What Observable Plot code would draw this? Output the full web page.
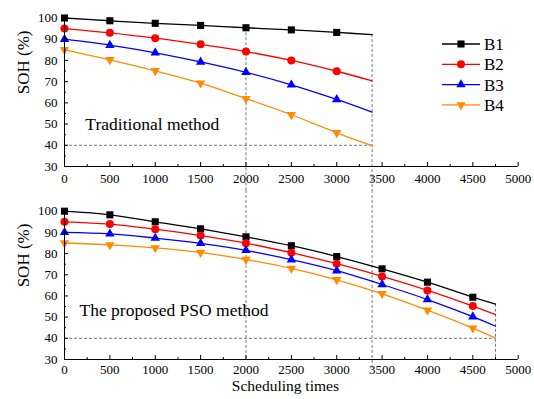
<!DOCTYPE html>
<html><head><meta charset="utf-8">
<script src="https://cdn.jsdelivr.net/npm/d3@7"></script>
<script src="https://cdn.jsdelivr.net/npm/@observablehq/plot@0.6"></script>
<style>
body{margin:0;background:#fff;}
#wrap{position:relative;width:534px;height:399px;font-family:"Liberation Serif","Times New Roman",serif;}
#wrap svg{display:block;}
#legend{position:absolute;left:0;top:0;pointer-events:none;}
</style></head><body><div id="wrap"></div>
<script>
// ---- data ----
const series = ["B1", "B2", "B3", "B4"];
const colors = ["#000000", "#ff0000", "#0000ff", "#ff8c00"];
const xTicks = [0, 500, 1000, 1500, 2000, 2500, 3000, 3500, 4000, 4500, 5000];
const xMinor = [250, 750, 1250, 1750, 2250, 2750, 3250, 3750, 4250, 4750];
const yTicks = [30, 40, 50, 60, 70, 80, 90, 100];
const yMinor = [35, 45, 55, 65, 75, 85, 95];

// Traditional method
const tradX = [0, 500, 1000, 1500, 2000, 2500, 3000, 3390];
const tradB1 = [100, 98.7, 97.5, 96.5, 95.4, 94.4, 93.2, 92.2];
const tradB2 = [95.0, 93.0, 90.5, 87.6, 84.2, 80.0, 74.9, 70.4];
const tradB3 = [90.0, 87.2, 83.6, 79.3, 74.4, 68.5, 61.6, 55.6];
const tradB4 = [85.0, 80.3, 75.1, 69.3, 62.0, 54.4, 45.9, 39.8];

// Proposed PSO method
const psoX = [0, 500, 1000, 1500, 2000, 2500, 3000, 3500, 4000, 4500, 4750];
const psoB1 = [100, 98.3, 95.0, 91.7, 87.9, 83.7, 78.6, 72.8, 66.5, 59.4, 56.1];
const psoB2 = [95.0, 93.9, 91.5, 88.5, 84.9, 80.4, 75.2, 69.2, 62.6, 55.2, 51.2];
const psoB3 = [90.0, 89.3, 87.3, 84.8, 81.5, 77.1, 71.9, 65.4, 58.3, 50.2, 45.7];
const psoB4 = [85.0, 84.1, 82.7, 80.5, 77.2, 73.0, 67.6, 61.0, 53.3, 44.8, 40.1];

// dashed reference lines
const tradRefH = [{y: 40, x1: 0, x2: 3390}];
const tradRefV = [{x: 2000, y1: 95.4, y2: 18.7}, {x: 3390, y1: 92.2, y2: 18.7}];
const psoRefH = [{y: 40, x1: 0, x2: 4750}];
const psoRefV = [{x: 2000, y1: 109.8, y2: 30}, {x: 3390, y1: 109.8, y2: 25.8}, {x: 4750, y1: 56.1, y2: 30}];

const yLabel = "SOH (%)";
const xLabel = "Scheduling times";
const tradTitle = "Traditional method";
const psoTitle = "The proposed PSO method";

// ---- symbols ----
const triDown = {draw(ctx, size) {
  const s3 = Math.sqrt(3);
  const y = Math.sqrt(size / (s3 * 3));
  ctx.moveTo(0, 2 * y); ctx.lineTo(s3 * y, -y); ctx.lineTo(-s3 * y, -y); ctx.closePath();
}};
const symbols = ["square", "circle", "triangle", triDown];
const d3symbols = [d3.symbolSquare, d3.symbolCircle, d3.symbolTriangle, triDown];
const radii = [4, 4, 3.5, 3.5];

function rowsOf(xs, arrays) {
  const rows = [];
  arrays.forEach((ys, i) => ys.forEach((y, j) => rows.push({s: series[i], i, x: xs[j], y, marker: j < xs.length - 1})));
  return rows;
}

const dash = {stroke: "#555", strokeWidth: 0.8, strokeDasharray: "3,2"};

function panel({xs, arrays, height, mt, mb, refH, refV, title, titleAt, showXLabel, xPad}) {
  const rows = rowsOf(xs, arrays);
  const marks = [
    Plot.ruleY(refH, {y: "y", x1: "x1", x2: "x2", ...dash}),
    Plot.ruleX(refV, {x: "x", y1: "y1", y2: "y2", ...dash}),
    Plot.line(rows, {x: "x", y: "y", z: "s", stroke: "s", strokeWidth: 1.3, curve: "catmull-rom"}),
    ...series.map((s, i) => Plot.dot(rows.filter(d => d.i === i && d.marker), {
      x: "x", y: "y", symbol: symbols[i], fill: colors[i], stroke: "none", r: radii[i]
    })),
    Plot.axisX({ticks: xTicks, tickSize: -4, tickPadding: xPad, tickFormat: d => String(d), fontSize: 13, label: null}),
    Plot.axisX({ticks: xMinor, tickSize: -2, tickFormat: () => "", label: null}),
    Plot.axisY({ticks: yTicks, tickSize: -4, tickPadding: 11, tickFormat: d => String(d), fontSize: 13, label: null}),
    Plot.axisY({ticks: yMinor, tickSize: -2, tickFormat: () => "", label: null}),
    Plot.ruleX([0], {stroke: "#000", strokeWidth: 1}),
    Plot.ruleY([30], {stroke: "#000", strokeWidth: 1}),
    Plot.text([title], {x: titleAt[0], y: titleAt[1], text: d => d, textAnchor: "start", fontSize: 17.5, fill: "#000"}),
    Plot.text([yLabel], {frameAnchor: "left", text: d => d, rotate: -90, dx: -41, dy: 2, fontSize: 17, fill: "#000"})
  ];
  if (showXLabel) marks.push(Plot.text([xLabel], {frameAnchor: "bottom", text: d => d, dx: -6, dy: 31.5, fontSize: 15.5, fill: "#000"}));
  return Plot.plot({
    width: 534, height,
    marginLeft: 64, marginRight: 16.3, marginTop: mt, marginBottom: mb,
    x: {domain: [0, 5000]},
    y: {domain: [30, 100]},
    color: {domain: series, range: colors},
    style: {fontFamily: "Liberation Serif, Times New Roman, serif", fontSize: "13px", background: "white", color: "#000", overflow: "visible"},
    marks
  });
}

const wrap = document.getElementById("wrap");
wrap.appendChild(panel({xs: tradX, arrays: [tradB1, tradB2, tradB3, tradB4], height: 190, mt: 17.5, mb: 24,
  refH: tradRefH, refV: tradRefV, title: tradTitle, titleAt: [230, 50], showXLabel: false, xPad: 11}));
wrap.appendChild(panel({xs: psoX, arrays: [psoB1, psoB2, psoB3, psoB4], height: 209, mt: 20.7, mb: 40,
  refH: psoRefH, refV: psoRefV, title: psoTitle, titleAt: [165, 53], showXLabel: true, xPad: 9.5}));

// legend
const lg = d3.select(wrap).append("svg").attr("id", "legend").attr("width", 534).attr("height", 190);
series.forEach((s, i) => {
  const g = lg.append("g").attr("transform", `translate(0,${44 + 20.3 * i})`);
  g.append("line").attr("x1", 442).attr("x2", 480).attr("stroke", colors[i]).attr("stroke-width", 1.3);
  g.append("path").attr("d", d3.symbol(d3symbols[i], Math.PI * radii[i] * radii[i])()).attr("transform", "translate(461,0)").attr("fill", colors[i]);
  g.append("text").attr("x", 484).attr("dy", "0.35em").attr("font-size", 17).attr("font-family", "Liberation Serif, Times New Roman, serif").text(s);
});
</script></body></html>
